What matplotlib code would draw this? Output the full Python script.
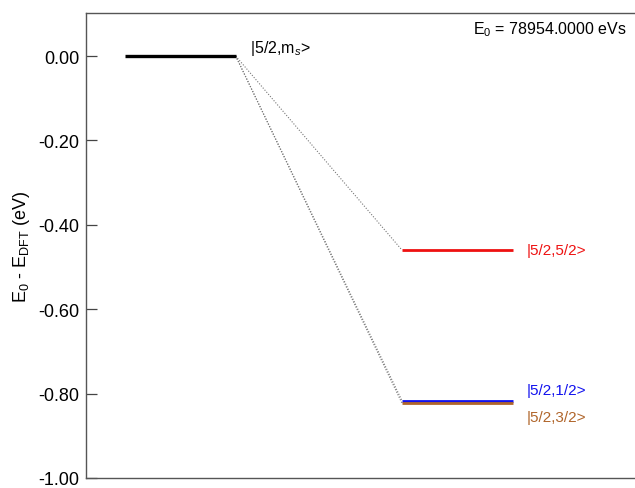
import matplotlib
matplotlib.use("Agg")
import matplotlib.pyplot as plt

# --- DATA ---
states = ["|5/2,m$_s$>", "|5/2,5/2>", "|5/2,1/2>", "|5/2,3/2>"]
energies = [0.00, -0.46, -0.817, -0.823]
columns = [0, 1, 1, 1]
colors = ["black", "#ee1111", "#1111ee", "#b0652a"]
yticks = [0.00, -0.20, -0.40, -0.60, -0.80, -1.00]
e0_text = "E$_0$ = 78954.0000 eVs"

plt.rcParams['font.family'] = ['Liberation Sans', 'DejaVu Sans']
plt.rcParams['mathtext.fontset'] = 'custom'
plt.rcParams['mathtext.rm'] = 'Liberation Sans'
plt.rcParams['mathtext.it'] = 'Liberation Sans:italic'

fig = plt.figure(figsize=(6.35, 4.89), dpi=100)
ax = fig.add_axes([86 / 635, 1 - 479 / 489, 560 / 635, 465 / 489])

level_w = 1.0
col_x = [0.35, 2.85]
label_off = [(10, 6), (10, 0), (10, 8), (10, -10)]

# dotted connectors from ground level to split levels
x0 = col_x[0] + level_w
for e, c in zip(energies, columns):
    if c == 1:
        ax.plot([x0, col_x[1]], [energies[0], e], color="#777777",
                linestyle=(0, (1, 1.5)), linewidth=0.8, zorder=1)

# levels
for name, e, c, col, off in zip(states, energies, columns, colors, label_off):
    xs = col_x[c]
    lw = 2.4 if c == 0 else 2.0
    ax.plot([xs, xs + level_w], [e, e], color=col, linewidth=lw,
            solid_capstyle='butt', zorder=3)
    ax.annotate(name, xy=(xs + level_w, e), xytext=off, textcoords='offset points',
                color=col, fontsize=11 if c else 11.5, va='center', ha='left')

ax.text(0.965, 0.967, e0_text, transform=ax.transAxes, fontsize=11.5,
        ha='right', va='center')

ax.set_xlim(0, 5.05)
ax.set_ylim(-1.0, 0.102)
ax.set_yticks(yticks)
ax.set_yticklabels([f"{t:.2f}" for t in yticks], fontsize=13)
ax.set_xticks([])
ax.tick_params(axis='y', direction='in', length=8, width=0.9, color='#444444', pad=5)
ax.set_ylabel("E$_0$ - E$_{\\mathrm{DFT}}$ (eV)", fontsize=13, labelpad=4)
for s in ax.spines.values():
    s.set_color('#555555')
    s.set_linewidth(1.0)

fig.savefig("out.png", dpi=100)
